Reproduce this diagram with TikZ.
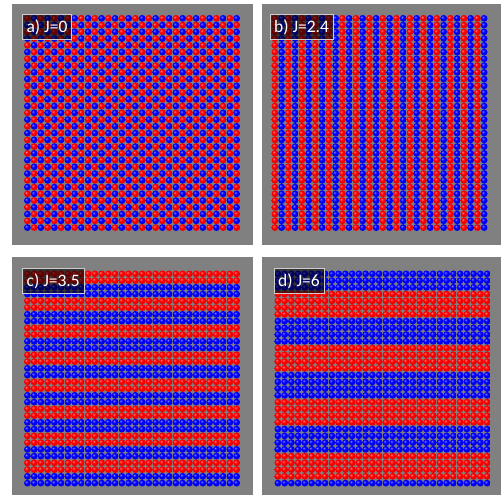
\documentclass[tikz,border=0pt]{standalone}
\usepackage{fontspec}
\setmainfont{Carlito}
\definecolor{panelgray}{RGB}{128,128,128}
\definecolor{labborder}{RGB}{205,205,205}
\definecolor{sred}{RGB}{255,0,0}
\definecolor{sblue}{RGB}{0,0,255}
\pgfdeclareradialshading{redball}{\pgfqpoint{-10bp}{10bp}}{color(0bp)=(sred!45!white); color(10bp)=(sred); color(30bp)=(sred!90!black); color(48bp)=(sred!65!black); color(70bp)=(sred!50!black)}
\pgfdeclareradialshading{blueball}{\pgfqpoint{-10bp}{10bp}}{color(0bp)=(sblue!45!white); color(10bp)=(sblue); color(30bp)=(sblue!90!black); color(48bp)=(sblue!65!black); color(70bp)=(sblue!50!black)}
% one ball = one reusable PDF form
\def\RB{\special{pdf:uxobj @rbform}\kern6.75pt}
\def\BB{\special{pdf:uxobj @bbform}\kern6.75pt}
\def\rowstrut{\vrule height6.75pt depth0pt width0pt}
\begin{document}
\begin{tikzpicture}[x=1pt,y=-1pt,
  panelbox/.style={fill=panelgray,draw=none},
  grid/.style={anchor=north west,inner sep=0pt,outer sep=0pt},
  lab/.style={anchor=north west,fill=black,fill opacity=0.6,text opacity=1,text=white,
    draw=labborder,line width=0.8pt,inner xsep=4.2pt,inner ysep=0pt,minimum height=25pt,
    font=\fontsize{17.5}{17.5}\selectfont}]
\useasboundingbox (0,0) rectangle (501,495);
\fill[white] (0,0) rectangle (501,495);
\fill[panelbox] (12,4) rectangle (253,245);
\fill[panelbox] (261.5,4) rectangle (501,245);
\fill[panelbox] (12,257) rectangle (253,495);
\fill[panelbox] (261.5,257) rectangle (501,495);
% ball forms (not drawn here, only defined)
\node[grid] (defs) at (0,0) {%
  \special{pdf:bxobj @rbform width 7.2pt height 7.2pt depth 0.4pt}%
  \tikz\shade[shading=redball] (0pt,0pt) circle (3.4pt);%
  \special{pdf:exobj}%
  \special{pdf:bxobj @bbform width 7.2pt height 7.2pt depth 0.4pt}%
  \tikz\shade[shading=blueball] (0pt,0pt) circle (3.4pt);%
  \special{pdf:exobj}};
% panel a: checkerboard
\node[grid] (ga) at (24,15) {\vbox{\offinterlineskip
  \foreach \j in {0,...,31}{\hbox{\rowstrut
    \foreach \i in {0,...,31}{\ifodd\numexpr\i+\j\relax\BB\else\RB\fi}}}}};
% panel b: alternating columns
\node[grid] (gb) at (271.5,15) {\vbox{\offinterlineskip
  \foreach \j in {0,...,31}{\hbox{\rowstrut
    \foreach \i in {0,...,31}{\ifodd\i\BB\else\RB\fi}}}}};
% panel c: stripes of two rows
\node[grid] (gc) at (24,270.5) {\vbox{\offinterlineskip
  \foreach \j in {0,...,31}{\pgfmathtruncatemacro\cc{mod(\j,4)}\hbox{\rowstrut
    \foreach \i in {0,...,31}{\ifnum\cc<2 \RB\else\BB\fi}}}}};
% panel d: stripes of four rows
\node[grid] (gd) at (274.5,270.5) {\vbox{\offinterlineskip
  \foreach \j in {0,...,31}{\pgfmathtruncatemacro\cc{mod(\j+1,8)}\hbox{\rowstrut
    \foreach \i in {0,...,31}{\ifnum\cc<4 \BB\else\RB\fi}}}}};
\node[lab] (la) at (22,14) {a) J=0};
\node[lab] (lb) at (269.5,14) {b) J=2.4};
\node[lab] (lc) at (22,268) {c) J=3.5};
\node[lab] (ld) at (273.5,268) {d) J=6};
\end{tikzpicture}
\end{document}
